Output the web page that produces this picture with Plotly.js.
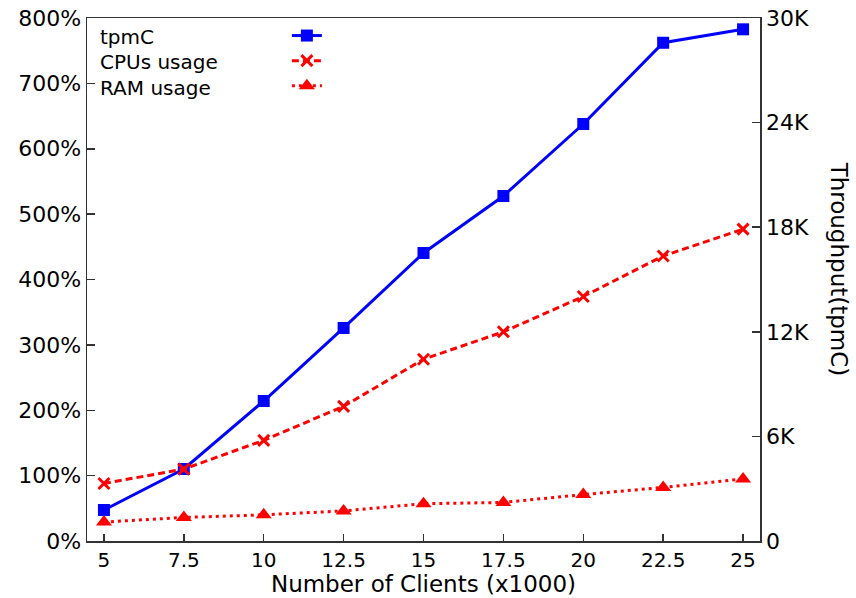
<!DOCTYPE html>
<html>
<head>
<meta charset="utf-8">
<script src="https://cdn.plot.ly/plotly-3.0.1.min.js"></script>
<style>html,body{margin:0;padding:0;background:#fff;}#chart{width:856px;height:598px;}</style>
</head>
<body>
<div id="chart"></div>
<script>
// Data
const clients = [5, 7.5, 10, 12.5, 15, 17.5, 20, 22.5, 25];
const tpmC = [1780, 4130, 8030, 12220, 16520, 19790, 23920, 28580, 29350];
const cpuUsage = [88, 110, 154, 206, 278, 320, 374, 436, 477];
const ramUsage = [29, 36, 40, 46, 57, 59, 71, 82, 95];
const seriesNames = ['tpmC', 'CPUs usage', 'RAM usage'];
const xTickVals = [5, 7.5, 10, 12.5, 15, 17.5, 20, 22.5, 25];
const xTickText = ['5', '7.5', '10', '12.5', '15', '17.5', '20', '22.5', '25'];
const pctTickVals = [0, 100, 200, 300, 400, 500, 600, 700, 800];
const pctTickText = ['0%', '100%', '200%', '300%', '400%', '500%', '600%', '700%', '800%'];
const thrTickVals = [0, 6000, 12000, 18000, 24000, 30000];
const thrTickText = ['0', '6K', '12K', '18K', '24K', '30K'];

const FONT = 'DejaVu Sans, Liberation Sans, Arial, sans-serif';
const AX = '#333';

const traces = [
  {
    x: clients, y: tpmC, name: '', xaxis: 'x', yaxis: 'y',
    mode: 'lines+markers', type: 'scatter',
    line: {color: '#0000ff', width: 3},
    marker: {symbol: 'square', size: 12, color: '#0000ff'}
  },
  {
    x: clients, y: cpuUsage, name: '', xaxis: 'x', yaxis: 'y2',
    mode: 'lines+markers', type: 'scatter',
    line: {color: '#ff0000', width: 3, dash: '7px,4px'},
    marker: {symbol: 'x-thin', size: 11, color: '#ff0000', line: {color: '#ff0000', width: 3}}
  },
  {
    x: clients, y: ramUsage, name: '', xaxis: 'x', yaxis: 'y2',
    mode: 'lines+markers', type: 'scatter',
    line: {color: '#ff0000', width: 3, dash: '3px,4px'},
    marker: {symbol: 'triangle-up', size: 14, color: '#ff0000'}
  }
];

// legend labels drawn as text to the left of the legend keys (as in the original)
const legendLabelY = [0.9637, 0.9159, 0.8662];
const annotations = seriesNames.map((n, i) => ({
  text: n, xref: 'paper', yref: 'paper', x: 0.0163, y: legendLabelY[i],
  xanchor: 'left', yanchor: 'middle', showarrow: false,
  font: {family: FONT, size: 20, color: '#000'}
}));
annotations.push({
  text: 'Throughput(tpmC)', xref: 'paper', yref: 'paper', x: 1.118, y: 0.52,
  xanchor: 'center', yanchor: 'middle', textangle: 90, showarrow: false,
  font: {family: FONT, size: 23, color: '#000'}
});

const layout = {
  width: 856, height: 598,
  margin: {l: 87, r: 96, t: 18, b: 57},
  paper_bgcolor: '#fff', plot_bgcolor: '#fff',
  font: {family: FONT, color: '#000', size: 22},
  showlegend: true,
  legend: {
    x: 0.297, y: 1, xanchor: 'left', yanchor: 'top',
    bgcolor: 'rgba(0,0,0,0)', font: {family: FONT, size: 17, color: '#000'},
    traceorder: 'normal', tracegroupgap: 0
  },
  xaxis: {
    range: [4.47, 25.53], tickmode: 'array', tickvals: xTickVals, ticktext: xTickText,
    ticks: 'inside', ticklen: 7, tickwidth: 1.5, tickcolor: AX,
    showline: true, linecolor: AX, linewidth: 1.5, mirror: true,
    showgrid: false, zeroline: false,
    tickfont: {family: FONT, size: 20, color: '#000'},
    title: {text: 'Number of Clients (x1000)', font: {family: FONT, size: 23, color: '#000'}, standoff: 3}
  },
  yaxis: {
    side: 'right', range: [0, 30000], tickmode: 'array', tickvals: thrTickVals, ticktext: thrTickText,
    ticks: 'inside', ticklen: 8, tickwidth: 1.5, tickcolor: AX,
    showline: true, linecolor: AX, linewidth: 1.5,
    showgrid: false, zeroline: false,
    tickfont: {family: FONT, size: 22, color: '#000'}
  },
  yaxis2: {
    side: 'left', overlaying: 'y', range: [0, 800], tickmode: 'array', tickvals: pctTickVals, ticktext: pctTickText,
    ticks: 'inside', ticklen: 8, tickwidth: 1.5, tickcolor: AX,
    showline: true, linecolor: AX, linewidth: 1.5,
    showgrid: false, zeroline: false,
    tickfont: {family: FONT, size: 22, color: '#000'}
  },
  annotations: annotations
};

Plotly.newPlot('chart', traces, layout, {displayModeBar: false, staticPlot: true});
</script>
</body>
</html>
